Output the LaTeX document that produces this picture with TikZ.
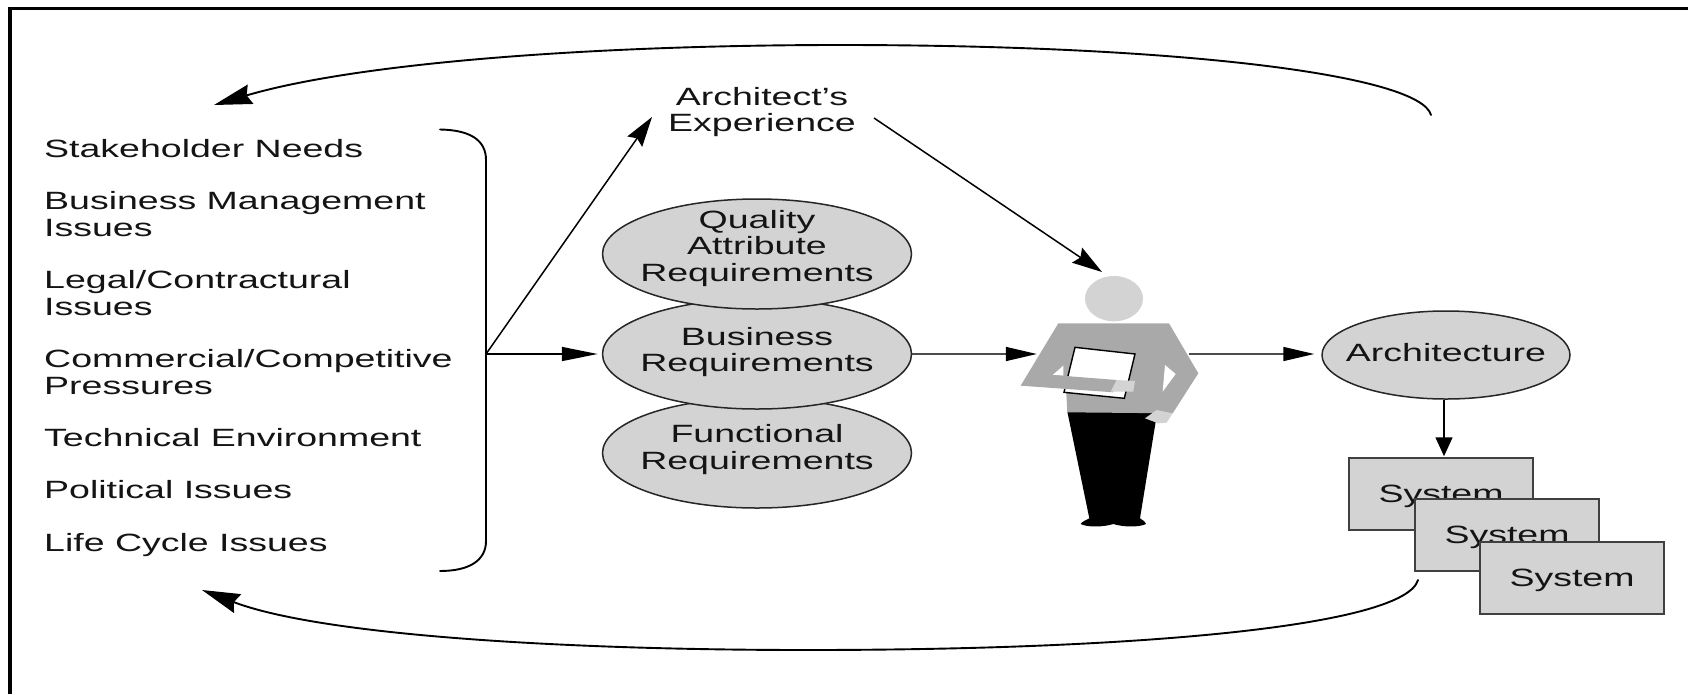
\documentclass[tikz,border=0pt]{standalone}
\usepackage{fontspec}
\setmainfont[FakeStretch=1.5]{Liberation Sans}
\usetikzlibrary{arrows.meta,shapes.geometric}
\definecolor{lightfill}{HTML}{D3D3D3}
\definecolor{bodygray}{HTML}{A9A9A9}
\definecolor{ink}{HTML}{141414}
\tikzset{
  every node/.style={font=\fontsize{25}{26.5}\selectfont, text=ink, inner sep=0pt},
  item/.style={anchor=base west, align=left},
  ell/.style={ellipse, draw=black!85, fill=lightfill, line width=1.5pt, inner sep=0pt},
  qual/.style={ell, minimum width=309pt, minimum height=110pt},
  etext/.style={align=center},
  sysbox/.style={rectangle, draw=black!75, fill=lightfill, line width=1.5pt, minimum width=184pt, minimum height=72pt},
  conn/.style={draw=black, line width=1.5pt},
  thin conn/.style={draw=black!70, line width=1.5pt},
  curve/.style={draw=black, line width=1.9pt, line cap=round},
  longhead/.style={-{Triangle[length=36pt,width=14pt]}},
  flathead/.style={-{Triangle[length=31pt,width=14pt,color=black,fill=black]}},
  midhead/.style={-{Stealth[length=30pt,width=18pt,inset=4pt]}},
  bighead/.style={-{Stealth[length=38pt,width=20pt,inset=4pt]}},
  downhead/.style={-{Triangle[length=19pt,width=17pt]}}
}
\begin{document}
\begin{tikzpicture}[x=1pt,y=-1pt]
\useasboundingbox (0,0) rectangle (1688,694);
\fill[white] (0,0) rectangle (1688,694);
% frame
\draw[black,line width=2.6pt] (10,8.5) -- (1688,8.5);
\draw[black,line width=3.2pt] (10,694) -- (10,7.2);

% list
\node[item] (i1) at (44,157.5) {Stakeholder Needs};
\node[item] (i2) at (44,209) {Business Management};
\node[item] (i2b) at (44,236) {Issues};
\node[item] (i3) at (44,288) {Legal/Contractural};
\node[item] (i3b) at (44,315) {Issues};
\node[item] (i4) at (44,367) {Commercial/Competitive};
\node[item] (i4b) at (44,394) {Pressures};
\node[item] (i5) at (44,446) {Technical Environment};
\node[item] (i6) at (44,498.5) {Political Issues};
\node[item] (i7) at (44,551) {Life Cycle Issues};

% bracket
\coordinate (brtop) at (440,129.5);
\coordinate (brbot) at (440,571);
\coordinate (brmid) at (486,354);
\draw[curve] (brtop) .. controls (470,130) and (486,140) .. (486,160) -- (486,541) .. controls (486,560) and (470,571) .. (brbot);

% ellipses
\node[qual] (fun) at (757,453) {};
\node[etext] (funt) at (757,449.5) {Functional\\Requirements};
\node[qual] (biz) at (757,354) {};
\node[etext] (bizt) at (757,352) {Business\\Requirements};
\node[qual] (qua) at (757,254) {};
\node[etext] (quat) at (757,248.5) {Quality\\Attribute\\Requirements};

% experience
\node[align=center] (exp) at (762,112) {Architect's\\Experience};
\coordinate (expin) at (652,117);
\coordinate (expout) at (874,118);
\coordinate (headtop) at (1102,272);

% person
\node[minimum width=152pt,minimum height=256pt] (person) at (1113,400) {};
\begin{scope}[shift={(980,250)},x=0.3333pt,y=-0.3333pt]
  \fill[lightfill] (402,146) ellipse [x radius=87,y radius=68];
  \fill[black] (262,485) -- (532,485) -- (480,805) .. controls (490,812) and (498,816) .. (498,822) .. controls (480,832) and (430,832) .. (400,822) .. controls (370,832) and (320,832) .. (302,822) .. controls (305,815) and (320,810) .. (328,805) -- cycle;
  \fill[bodygray] (235,220) -- (567,220) -- (655,370) -- (578,490) -- (262,487) -- (258,412) -- (122,407) -- cycle;
  \fill[white] (250,347) -- (218,375) -- (250,377) -- cycle;
  \fill[white] (555,345) -- (587,372) -- (548,425) -- cycle;
  \draw[fill=white,draw=black,line width=1.4pt] (285,292) -- (465,312) -- (433,445) -- (252,427) -- cycle;
  \fill[bodygray] (218,375) -- (410,390) -- (400,427) -- (122,407) -- cycle;
  \fill[lightfill] (410,390) -- (465,393) -- (460,425) -- (392,425) -- cycle;
  \fill[lightfill] (495,505) -- (530,480) -- (578,490) -- (560,518) -- (535,520) -- cycle;
\end{scope}

% architecture and systems
\node[ell,minimum width=248pt,minimum height=88pt] (arch) at (1446,355) {};
\node (archt) at (1446,352.5) {Architecture};
\node[sysbox] (s1) at (1441,494) {\rule{0pt}{22pt}System};
\node[sysbox] (s2) at (1507,535) {\rule{0pt}{22pt}System};
\node[sysbox] (s3) at (1572,578) {\rule{0pt}{22pt}System};

% connectors
\draw[conn,midhead] (brmid) -- (expin);
\draw[conn,longhead,shorten >=4pt] (brmid) -- (biz.west);
\draw[conn,midhead] (expout) -- (headtop);
\draw[thin conn,flathead] (biz.east) -- (person.west |- biz.east);
\draw[thin conn,flathead,shorten >=7pt] (person.east |- biz.east) -- (arch.west |- biz.east);
\draw[conn,downhead,shorten >=1pt] (arch.south -| 1444,0) -- (s1.north -| 1444,0);

% feedback curves
\coordinate (topstart) at (1431,115);
\coordinate (toptip) at (214,105);
\coordinate (botstart) at (1418,580);
\coordinate (bottip) at (202,590);
\draw[curve,bighead] (topstart) .. controls (1420,75) and (1180,45) .. (840,45) .. controls (600,45) and (360,62) .. (toptip);
\draw[curve,bighead] (botstart) .. controls (1405,625) and (1150,650) .. (807,650) .. controls (560,650) and (320,635) .. (bottip);
\end{tikzpicture}
\end{document}
